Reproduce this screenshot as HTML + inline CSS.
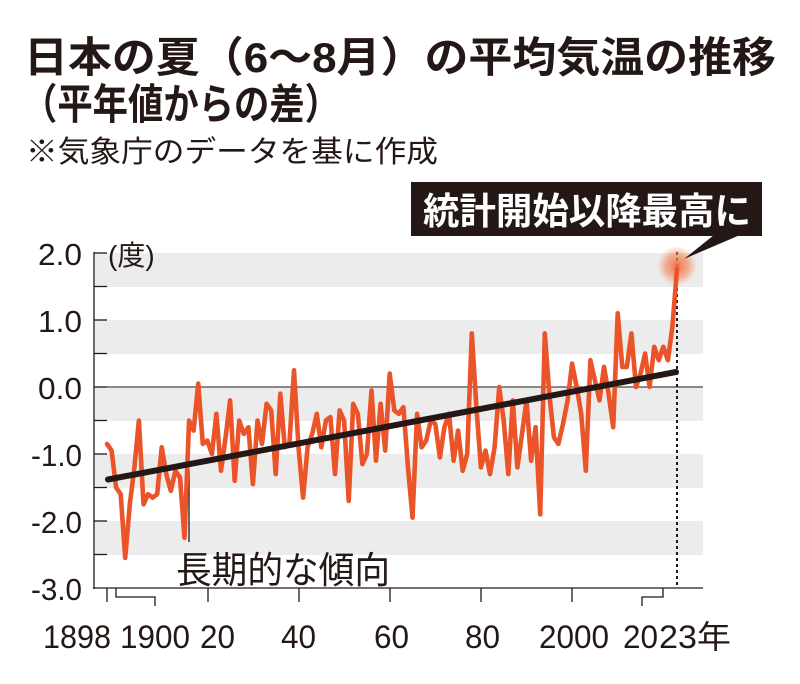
<!DOCTYPE html>
<html><head><meta charset="utf-8"><style>
html,body{margin:0;padding:0;background:#fff;}
svg{display:block;font-family:"Liberation Sans","Noto Sans CJK JP",sans-serif;}
</style></head><body>
<svg id="s" width="800" height="684" viewBox="0 0 800 684" xmlns="http://www.w3.org/2000/svg">
<defs><radialGradient id="g"><stop offset="0" stop-color="#f06a3a" stop-opacity="0.95"/><stop offset="0.6" stop-color="#f3875c" stop-opacity="0.6"/><stop offset="1" stop-color="#f7a080" stop-opacity="0"/></radialGradient></defs>
<text x="24" y="72" font-size="42" font-weight="bold" fill="#231815" textLength="752" lengthAdjust="spacingAndGlyphs">日本の夏（6～8月）の平均気温の推移</text>
<text x="22" y="119" font-size="42" font-weight="bold" fill="#231815" textLength="318" lengthAdjust="spacingAndGlyphs">（平年値からの差）</text>
<text x="26" y="162" font-size="30" fill="#231815" textLength="412" lengthAdjust="spacingAndGlyphs">※気象庁のデータを基に作成</text>
<g fill="#ececec">
<rect x="95" y="253" width="608" height="34"/><rect x="95" y="320" width="608" height="34"/><rect x="95" y="387" width="608" height="34"/><rect x="95" y="454" width="608" height="34"/><rect x="95" y="521" width="608" height="34"/>
</g>
<line x1="95" y1="387" x2="703" y2="387" stroke="#231815" stroke-width="1"/>
<g stroke="#231815" stroke-width="1.3" fill="none">
<line x1="94" y1="252" x2="94" y2="589"/><line x1="93" y1="588" x2="703" y2="588"/>
<line x1="94" y1="253" x2="107" y2="253"/><line x1="94" y1="286.5" x2="107" y2="286.5"/><line x1="94" y1="320" x2="107" y2="320"/><line x1="94" y1="353.5" x2="107" y2="353.5"/><line x1="94" y1="387" x2="107" y2="387"/><line x1="94" y1="420.5" x2="107" y2="420.5"/><line x1="94" y1="454" x2="107" y2="454"/><line x1="94" y1="487.5" x2="107" y2="487.5"/><line x1="94" y1="521" x2="107" y2="521"/><line x1="94" y1="554.5" x2="107" y2="554.5"/>
<line x1="107" y1="588" x2="107" y2="602"/><line x1="208" y1="588" x2="208" y2="602"/><line x1="299" y1="588" x2="299" y2="602"/><line x1="390" y1="588" x2="390" y2="602"/><line x1="481" y1="588" x2="481" y2="602"/><line x1="572" y1="588" x2="572" y2="602"/>
<polyline points="116,588 116,597 155,597 155,606"/>
<polyline points="663,588 663,597 642,597 642,606"/>
<line x1="189" y1="470" x2="189" y2="542"/>
</g>
<line x1="677" y1="252" x2="677" y2="588" stroke="#231815" stroke-width="2" stroke-dasharray="3,3"/>
<g font-size="31" fill="#231815">
<text x="38" y="265" textLength="44" lengthAdjust="spacingAndGlyphs">2.0</text><text x="38" y="332" textLength="44" lengthAdjust="spacingAndGlyphs">1.0</text><text x="38" y="399" textLength="44" lengthAdjust="spacingAndGlyphs">0.0</text><text x="31" y="466" textLength="51" lengthAdjust="spacingAndGlyphs">-1.0</text><text x="31" y="533" textLength="51" lengthAdjust="spacingAndGlyphs">-2.0</text><text x="31" y="600" textLength="51" lengthAdjust="spacingAndGlyphs">-3.0</text>
</g>
<text x="108" y="265" font-size="28" fill="#231815">(度)</text>
<g font-size="32" fill="#231815">
<text x="43" y="648" textLength="68" lengthAdjust="spacingAndGlyphs">1898</text>
<text x="120" y="648" textLength="70" lengthAdjust="spacingAndGlyphs">1900</text>
<text x="200" y="648" textLength="35" lengthAdjust="spacingAndGlyphs">20</text><text x="281" y="648" textLength="35" lengthAdjust="spacingAndGlyphs">40</text><text x="374" y="648" textLength="35" lengthAdjust="spacingAndGlyphs">60</text><text x="465" y="648" textLength="35" lengthAdjust="spacingAndGlyphs">80</text>
<text x="539" y="648" textLength="70" lengthAdjust="spacingAndGlyphs">2000</text>
<text x="623" y="648" textLength="35" lengthAdjust="spacingAndGlyphs">20</text>
<text x="659" y="648" textLength="72" lengthAdjust="spacingAndGlyphs">23年</text>
</g>
<text x="176" y="583" font-size="37" fill="#231815" textLength="214" lengthAdjust="spacingAndGlyphs">長期的な傾向</text>
<circle cx="677" cy="266" r="20" fill="url(#g)"/>
<polyline id="d" fill="none" stroke="#ea5428" stroke-width="4.6" stroke-linejoin="round" stroke-linecap="round" points=""/>
<line x1="108" y1="479.5" x2="676" y2="372" stroke="#231815" stroke-width="6" stroke-linecap="round"/>
<rect x="411" y="182" width="351" height="54" fill="#231815"/>
<polygon points="714,235 740,235 684,259" fill="#231815"/>
<text x="423" y="224" font-size="37" font-weight="bold" fill="#fff" textLength="328" lengthAdjust="spacingAndGlyphs">統計開始以降最高に</text>
</svg>
<script>
var v=[-0.85,-0.95,-1.5,-1.6,-2.55,-1.75,-1.2,-0.5,-1.75,-1.6,-1.65,-1.6,
-0.9,-1.3,-1.55,-1.25,-1.35,-2.25,-0.5,-0.65,0.05,-0.85,
-0.8,-1.0,-0.4,-1.25,-0.75,-0.2,-1.4,-0.5,-0.7,-0.6,
-1.45,-0.5,-0.85,-0.25,-0.35,-1.3,-0.1,-0.9,-0.85,0.25,
-0.9,-1.65,-0.9,-0.7,-0.4,-0.9,-0.5,-0.45,-1.3,-0.35,
-0.5,-1.7,-0.25,-0.4,-1.15,-1.0,-0.05,-1.1,-0.25,-0.95,
0.2,-0.35,-0.4,-0.3,-1.2,-1.95,-0.4,-0.9,-0.8,-0.5,
-0.55,-1.05,-0.6,-0.4,-1.1,-0.65,-1.25,-1.0,0.8,-0.3,
-1.2,-0.95,-1.3,-0.9,0.0,-0.5,-1.3,-0.2,-1.2,-0.7,
-0.2,-1.1,-0.6,-1.9,0.8,-0.1,-0.75,-0.85,-0.55,-0.2,
0.35,0.0,-0.4,-1.25,0.4,0.1,-0.2,0.3,-0.1,-0.6,
1.1,0.3,0.3,0.8,0.0,0.2,0.5,0.0,0.6,0.4,0.6,0.4,0.9,1.76];
var p=[];for(var i=0;i<v.length;i++){p.push((107+i*570/125).toFixed(1)+","+(387-v[i]*67).toFixed(1));}
document.getElementById("d").setAttribute("points",p.join(" "));
</script>
</body></html>
